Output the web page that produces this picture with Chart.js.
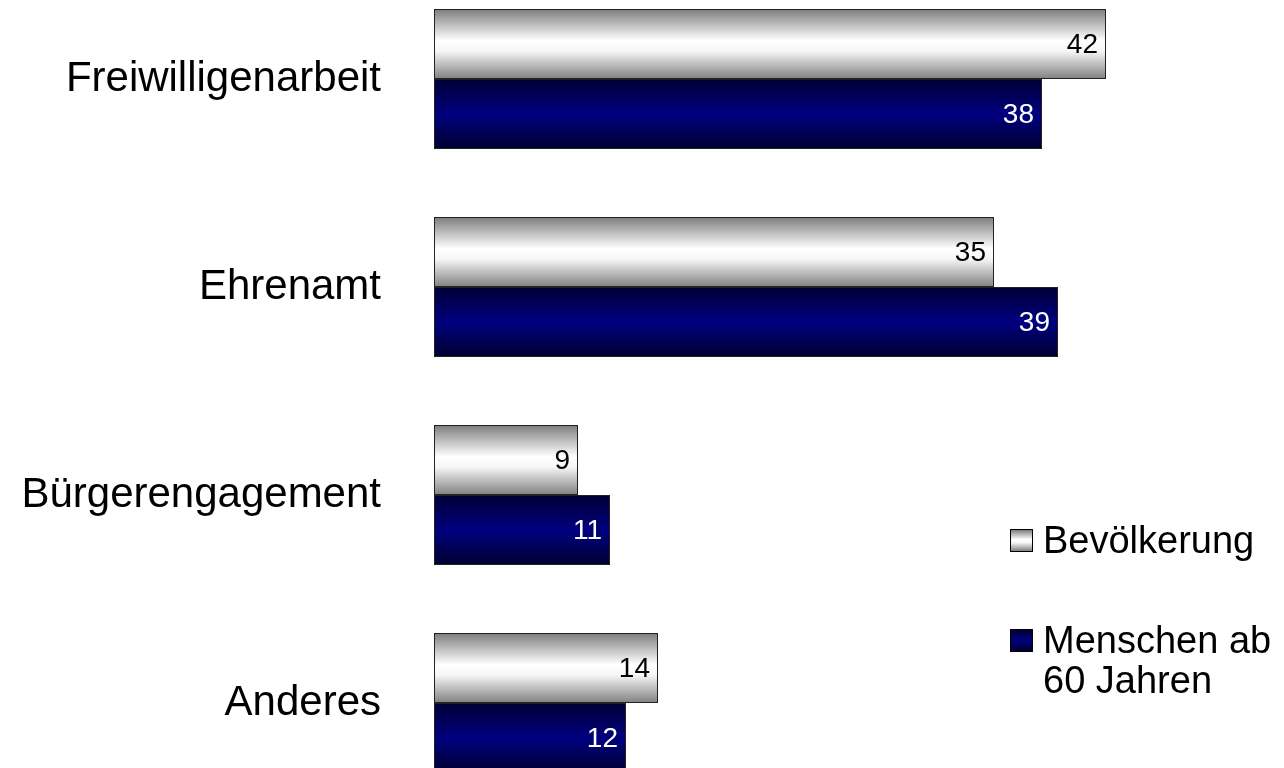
<!DOCTYPE html>
<html>
<head>
<meta charset="utf-8">
<script src="https://cdn.jsdelivr.net/npm/chart.js@4.4.1/dist/chart.umd.min.js"></script>
<style>
  html, body { margin: 0; padding: 0; background: #fff; width: 1284px; height: 768px; overflow: hidden; position: relative; }
  #c { position: absolute; left: 0; top: -25px; width: 1284px; height: 832px; }
  #legend { position: absolute; left: 1010px; top: 520px; font-family: "Liberation Sans", Arial, sans-serif; font-size: 38px; color: #000; line-height: 40px; }
  .item { position: absolute; left: 0; white-space: nowrap; }
  .sw { position: absolute; left: 0; width: 21px; height: 21px; border: 1px solid #000; }
  .txt { position: absolute; left: 33px; }
</style>
</head>
<body>
<canvas id="c" width="1284" height="832"></canvas>
<div id="legend"></div>
<script>
const categories = ["Freiwilligenarbeit", "Ehrenamt", "Bürgerengagement", "Anderes"];
const seriesNames = ["Bevölkerung", "Menschen ab 60 Jahren"];
const bevoelkerung = [42, 35, 9, 14];
const menschenAb60 = [38, 39, 11, 12];

const CAT_PCT = 0.673;

function gradFor(ctx, dsIndex) {
  const chart = ctx.chart;
  const ys = chart.scales && chart.scales.y;
  if (!ys || !chart.chartArea || ctx.dataIndex === undefined) return dsIndex === 0 ? '#ddd' : '#000080';
  const c = ys.getPixelForValue(ctx.dataIndex);
  const band = ys.height / categories.length;
  const th = band * CAT_PCT / 2;
  const top = dsIndex === 0 ? c - th : c;
  const g = chart.ctx.createLinearGradient(0, top, 0, top + th);
  if (dsIndex === 0) {
    g.addColorStop(0, '#7c7c7c');
    g.addColorStop(0.45, '#ffffff');
    g.addColorStop(0.6, '#f6f6f6');
    g.addColorStop(1, '#808080');
  } else {
    g.addColorStop(0, '#000033');
    g.addColorStop(0.5, '#000080');
    g.addColorStop(1, '#000030');
  }
  return g;
}

const valueLabels = {
  id: 'valueLabels',
  afterDatasetsDraw(chart) {
    const ctx = chart.ctx;
    ctx.save();
    ctx.font = '28px "Liberation Sans", Arial, sans-serif';
    ctx.textAlign = 'right';
    ctx.textBaseline = 'middle';
    chart.data.datasets.forEach((ds, di) => {
      const meta = chart.getDatasetMeta(di);
      ctx.fillStyle = di === 0 ? '#000' : '#fff';
      meta.data.forEach((el, i) => {
        ctx.fillText(String(ds.data[i]), el.x - 8, el.y + 1);
      });
    });
    ctx.restore();
  }
};

new Chart(document.getElementById('c'), {
  type: 'bar',
  data: {
    labels: categories,
    datasets: [
      { label: seriesNames[0], data: bevoelkerung, backgroundColor: (ctx) => gradFor(ctx, 0),
        borderColor: '#222', borderWidth: 1, borderSkipped: false },
      { label: seriesNames[1], data: menschenAb60, backgroundColor: (ctx) => gradFor(ctx, 1),
        borderColor: '#222', borderWidth: 1, borderSkipped: false }
    ]
  },
  options: {
    indexAxis: 'y',
    responsive: false,
    maintainAspectRatio: false,
    devicePixelRatio: 1,
    animation: false,
    datasets: { bar: { categoryPercentage: CAT_PCT, barPercentage: 1 } },
    layout: { padding: { left: 0, right: 50, top: 0, bottom: 0 } },
    plugins: { legend: { display: false }, tooltip: { enabled: false } },
    scales: {
      x: { display: false, min: 0, max: 50 },
      y: {
        grid: { display: false },
        border: { display: false },
        ticks: { color: '#000', padding: 45, font: { family: '"Liberation Sans", Arial, sans-serif', size: 42 } },
        afterFit(scale) { scale.width = 434; scale.paddingTop = 0; scale.paddingBottom = 0; }
      }
    }
  },
  plugins: [valueLabels]
});

// HTML legend
const legend = document.getElementById('legend');
const swatches = [
  'linear-gradient(#7c7c7c, #ffffff 45%, #f6f6f6 60%, #808080)',
  'linear-gradient(#000033, #000080 50%, #000030)'
];
const itemTops = [0, 100];
const itemTexts = [[seriesNames[0]], ["Menschen ab", "60 Jahren"]];
itemTexts.forEach((lines, i) => {
  const it = document.createElement('div');
  it.className = 'item';
  it.style.top = itemTops[i] + 'px';
  const sw = document.createElement('div');
  sw.className = 'sw';
  sw.style.top = '9px';
  sw.style.background = swatches[i];
  const tx = document.createElement('div');
  tx.className = 'txt';
  tx.innerHTML = lines.join('<br>');
  it.appendChild(sw);
  it.appendChild(tx);
  legend.appendChild(it);
});
</script>
</body>
</html>
